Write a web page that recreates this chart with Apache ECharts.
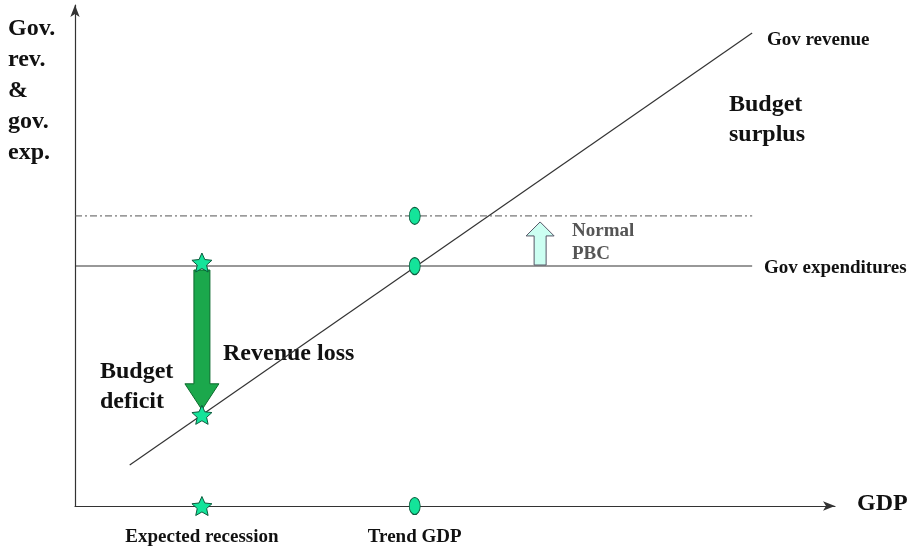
<!DOCTYPE html>
<html>
<head>
<meta charset="utf-8">
<script src="https://cdn.jsdelivr.net/npm/echarts@6/dist/echarts.min.js"></script>
<style>html,body{margin:0;padding:0;background:#fff}#c{width:913px;height:552px}</style>
</head>
<body>
<div id="c"></div>
<script>
// ---- data (axis units 0..100) ----
const revenueLine = [[7.2, 8.2], [89.1, 94.4]];
const expenditureLine = [[0, 47.9], [89.1, 47.9]];
const normalLine = [[0, 57.9], [89.1, 57.9]];
const ellipsePoints = [[44.7, 57.9], [44.7, 47.9], [44.7, 0]];
const starPoints = [[16.7, 48.6], [16.7, 18.2], [16.7, 0]];
const axisLabels = [[16.7, 0, 'Expected recession'], [44.7, 0, 'Trend GDP']];
const lossArrow = [[16.7, 47.1, 19.2]];
const pbcArrow = [[61.2, 48.1, 56.7]];

// star symbol
let sp = '';
for (let i = 0; i < 10; i++) {
  const a = (-90 + 36 * i) * Math.PI / 180, r = i % 2 ? 0.47 : 1;
  sp += (i ? 'L' : 'M') + (r * Math.cos(a)).toFixed(3) + ' ' + (r * Math.sin(a)).toFixed(3);
}
sp += 'Z';

const serif = '"Liberation Serif", "DejaVu Serif", serif';
const fillGreen = '#14e49a';

function arrowItem(shaftW, headW, headH, fill, stroke) {
  return function (params, api) {
    const p0 = api.coord([api.value(0), api.value(1)]);
    const p1 = api.coord([api.value(0), api.value(2)]);
    const x = p0[0], y0 = p0[1], y1 = p1[1];
    const dir = y1 > y0 ? 1 : -1;
    const yh = y1 - dir * headH;
    const pts = [
      [x - shaftW / 2, y0], [x + shaftW / 2, y0], [x + shaftW / 2, yh],
      [x + headW / 2, yh], [x, y1], [x - headW / 2, yh], [x - shaftW / 2, yh]
    ];
    return { type: 'polygon', shape: { points: pts }, style: { fill: fill, stroke: stroke, lineWidth: 1 } };
  };
}

function txt(x, y, text, size, lh, color) {
  return { type: 'text', x: x, y: y,
    style: { text: text, font: 'bold ' + size + 'px ' + serif, lineHeight: lh || size * 1.2, fill: color || '#111', verticalAlign: 'top' } };
}

const chart = echarts.init(document.getElementById('c'));
chart.setOption({
  animation: false,
  grid: { left: 75, right: 78, top: 5, bottom: 46 },
  xAxis: {
    type: 'value', min: 0, max: 100,
    axisLine: { lineStyle: { color: '#333', width: 1.2 }, symbol: ['none', 'arrow'], symbolSize: [7, 12] },
    axisTick: { show: false }, axisLabel: { show: false }, splitLine: { show: false }
  },
  yAxis: {
    type: 'value', min: 0, max: 100,
    axisLine: { lineStyle: { color: '#333', width: 1.2 }, symbol: ['none', 'arrow'], symbolSize: [7, 12] },
    axisTick: { show: false }, axisLabel: { show: false }, splitLine: { show: false }
  },
  series: [
    { type: 'line', data: revenueLine, symbol: 'none', lineStyle: { color: '#333', width: 1.2 }, z: 2 },
    { type: 'line', data: expenditureLine, symbol: 'none', lineStyle: { color: '#333', width: 1.2 }, z: 2 },
    { type: 'line', data: normalLine, symbol: 'none', lineStyle: { color: '#555', width: 1, type: [7, 3, 2, 3] }, z: 2 },
    { type: 'custom', data: lossArrow, renderItem: arrowItem(16, 34, 26, '#1ba84c', '#0b6a2c'), z: 3 },
    { type: 'custom', data: pbcArrow, renderItem: arrowItem(12, 28, 14, '#ccfff2', '#556'), z: 3 },
    { type: 'scatter', data: ellipsePoints, symbol: 'circle', symbolSize: [11, 17],
      itemStyle: { color: fillGreen, borderColor: '#0b5a3c', borderWidth: 1, opacity: 1 }, z: 5 },
    { type: 'scatter', data: starPoints, symbol: 'path://' + sp, symbolSize: 20, symbolKeepAspect: true,
      itemStyle: { color: fillGreen, borderColor: '#0b5a3c', borderWidth: 1, opacity: 1 }, z: 5 },
    { type: 'scatter', data: axisLabels, symbolSize: 0, silent: true,
      itemStyle: { opacity: 1 },
      label: { show: true, position: 'bottom', distance: 22, formatter: p => p.value[2],
        fontFamily: serif, fontWeight: 'bold', fontSize: 19, color: '#111', opacity: 1 } }
  ],
  graphic: [
    txt(8, 13, 'Gov.\nrev.\n&\ngov.\nexp.', 24, 31),
    txt(767, 29, 'Gov revenue', 19),
    txt(729, 90, 'Budget\nsurplus', 24, 30),
    txt(572, 220, 'Normal\nPBC', 19, 23, '#555'),
    txt(764, 257, 'Gov expenditures', 19),
    txt(223, 339, 'Revenue loss', 24),
    txt(100, 357, 'Budget\ndeficit', 24, 30),
    txt(857, 489, 'GDP', 24)
  ]
});
</script>
</body>
</html>
